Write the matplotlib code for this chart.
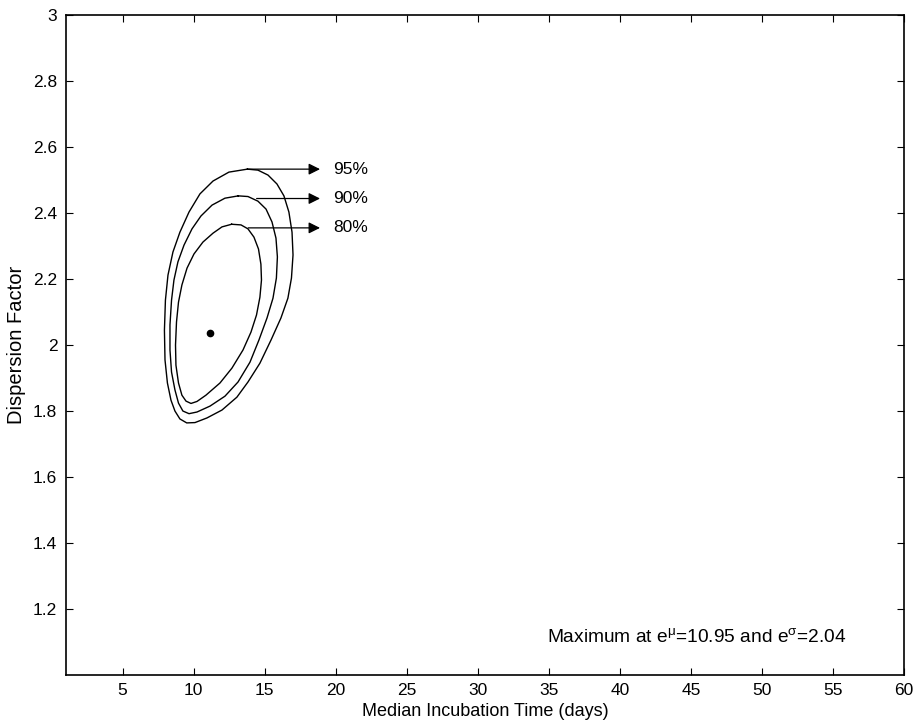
import matplotlib
matplotlib.use("Agg")
import matplotlib.pyplot as plt

plt.rcParams['font.family'] = ['Liberation Sans', 'DejaVu Sans']
plt.rcParams['mathtext.fontset'] = 'custom'
plt.rcParams['mathtext.rm'] = 'Liberation Sans'
plt.rcParams['mathtext.it'] = 'Liberation Sans'

# confidence contours (median, dispersion)
c95_x = [13.79, 14.53, 15.24, 15.87, 16.36, 16.71, 16.93, 17.00, 16.89, 16.64, 16.15, 15.45,
         14.67, 13.83, 13.05, 12.00, 10.94, 10.10, 9.52, 9.04, 8.69, 8.41, 8.16, 7.99,
         7.95, 8.02, 8.20, 8.55, 9.04, 9.68, 10.45, 11.37, 12.49, 13.79]
c95_y = [2.533, 2.530, 2.515, 2.488, 2.452, 2.403, 2.342, 2.273, 2.203, 2.142, 2.082, 2.015,
         1.945, 1.888, 1.842, 1.803, 1.779, 1.765, 1.764, 1.776, 1.800, 1.833, 1.885, 1.955,
         2.045, 2.136, 2.212, 2.282, 2.342, 2.403, 2.458, 2.497, 2.524, 2.533]

c90_x = [13.15, 13.83, 14.53, 15.10, 15.52, 15.80, 15.90, 15.83, 15.59, 15.17, 14.60, 13.97,
         13.13, 12.21, 11.16, 10.24, 9.68, 9.25, 8.94, 8.69, 8.45, 8.34, 8.34, 8.45,
         8.62, 8.90, 9.33, 9.89, 10.52, 11.30, 12.21, 13.15]
c90_y = [2.452, 2.450, 2.436, 2.412, 2.373, 2.324, 2.267, 2.203, 2.142, 2.082, 2.015, 1.948,
         1.888, 1.845, 1.815, 1.797, 1.792, 1.800, 1.824, 1.864, 1.918, 1.985, 2.061, 2.136,
         2.197, 2.252, 2.303, 2.352, 2.391, 2.424, 2.445, 2.452]

c80_x = [12.68, 13.34, 13.83, 14.25, 14.57, 14.74, 14.78, 14.67, 14.43, 14.04, 13.48, 12.70,
         11.86, 10.87, 10.24, 9.82, 9.47, 9.18, 8.94, 8.76, 8.73, 8.80, 8.94, 9.18,
         9.54, 10.03, 10.66, 11.37, 12.00, 12.68]
c80_y = [2.366, 2.364, 2.352, 2.327, 2.291, 2.245, 2.197, 2.145, 2.091, 2.039, 1.985, 1.930,
         1.885, 1.848, 1.829, 1.823, 1.830, 1.848, 1.885, 1.939, 2.000, 2.070, 2.130, 2.182,
         2.233, 2.276, 2.312, 2.339, 2.358, 2.366]

# maximum likelihood point
max_x = 11.15
max_y = 2.035

# arrow labels
labels = ['95%', '90%', '80%']
arrow_start_x = [13.85, 14.44, 13.85]
arrow_y = [2.533, 2.444, 2.355]
arrow_end_x = 18.9
label_x = 19.8

xticks = [5, 10, 15, 20, 25, 30, 35, 40, 45, 50, 55, 60]
yticks = [1.2, 1.4, 1.6, 1.8, 2.0, 2.2, 2.4, 2.6, 2.8, 3.0]
ytick_labels = ['1.2', '1.4', '1.6', '1.8', '2', '2.2', '2.4', '2.6', '2.8', '3']

fig = plt.figure(figsize=(9.16, 7.26), dpi=100)
ax = fig.add_axes([0.0717, 0.0702, 0.9152, 0.9091])

for cx, cy in [(c95_x, c95_y), (c90_x, c90_y), (c80_x, c80_y)]:
    ax.plot(cx, cy, color='black', lw=1.0)

ax.plot([max_x], [max_y], 'o', color='black', markersize=4.5)

for lab, sx, ay in zip(labels, arrow_start_x, arrow_y):
    ax.annotate('', xy=(arrow_end_x, ay), xytext=(sx, ay),
                arrowprops=dict(arrowstyle='-|>', color='black', lw=0.9,
                                mutation_scale=17, shrinkA=0, shrinkB=0))
    ax.text(label_x, ay, lab, fontsize=12.5, va='center', ha='left')

ax.text(34.9, 1.115, r'Maximum at e$^{\mu}$=10.95 and e$^{\sigma}$=2.04',
        fontsize=13.8, va='center', ha='left')

ax.set_xlim(1, 60)
ax.set_ylim(1, 3)
ax.set_xticks(xticks)
ax.set_yticks(yticks)
ax.set_yticklabels(ytick_labels)
ax.tick_params(direction='in', top=True, right=True, length=5, width=0.8,
               labelsize=12.5, pad=6)
for s in ax.spines.values():
    s.set_linewidth(1.2)

ax.set_xlabel('Median Incubation Time (days)', fontsize=13, labelpad=3)
ax.set_ylabel('Dispersion Factor', fontsize=14.5, labelpad=5)

fig.savefig('out.png', dpi=100)
